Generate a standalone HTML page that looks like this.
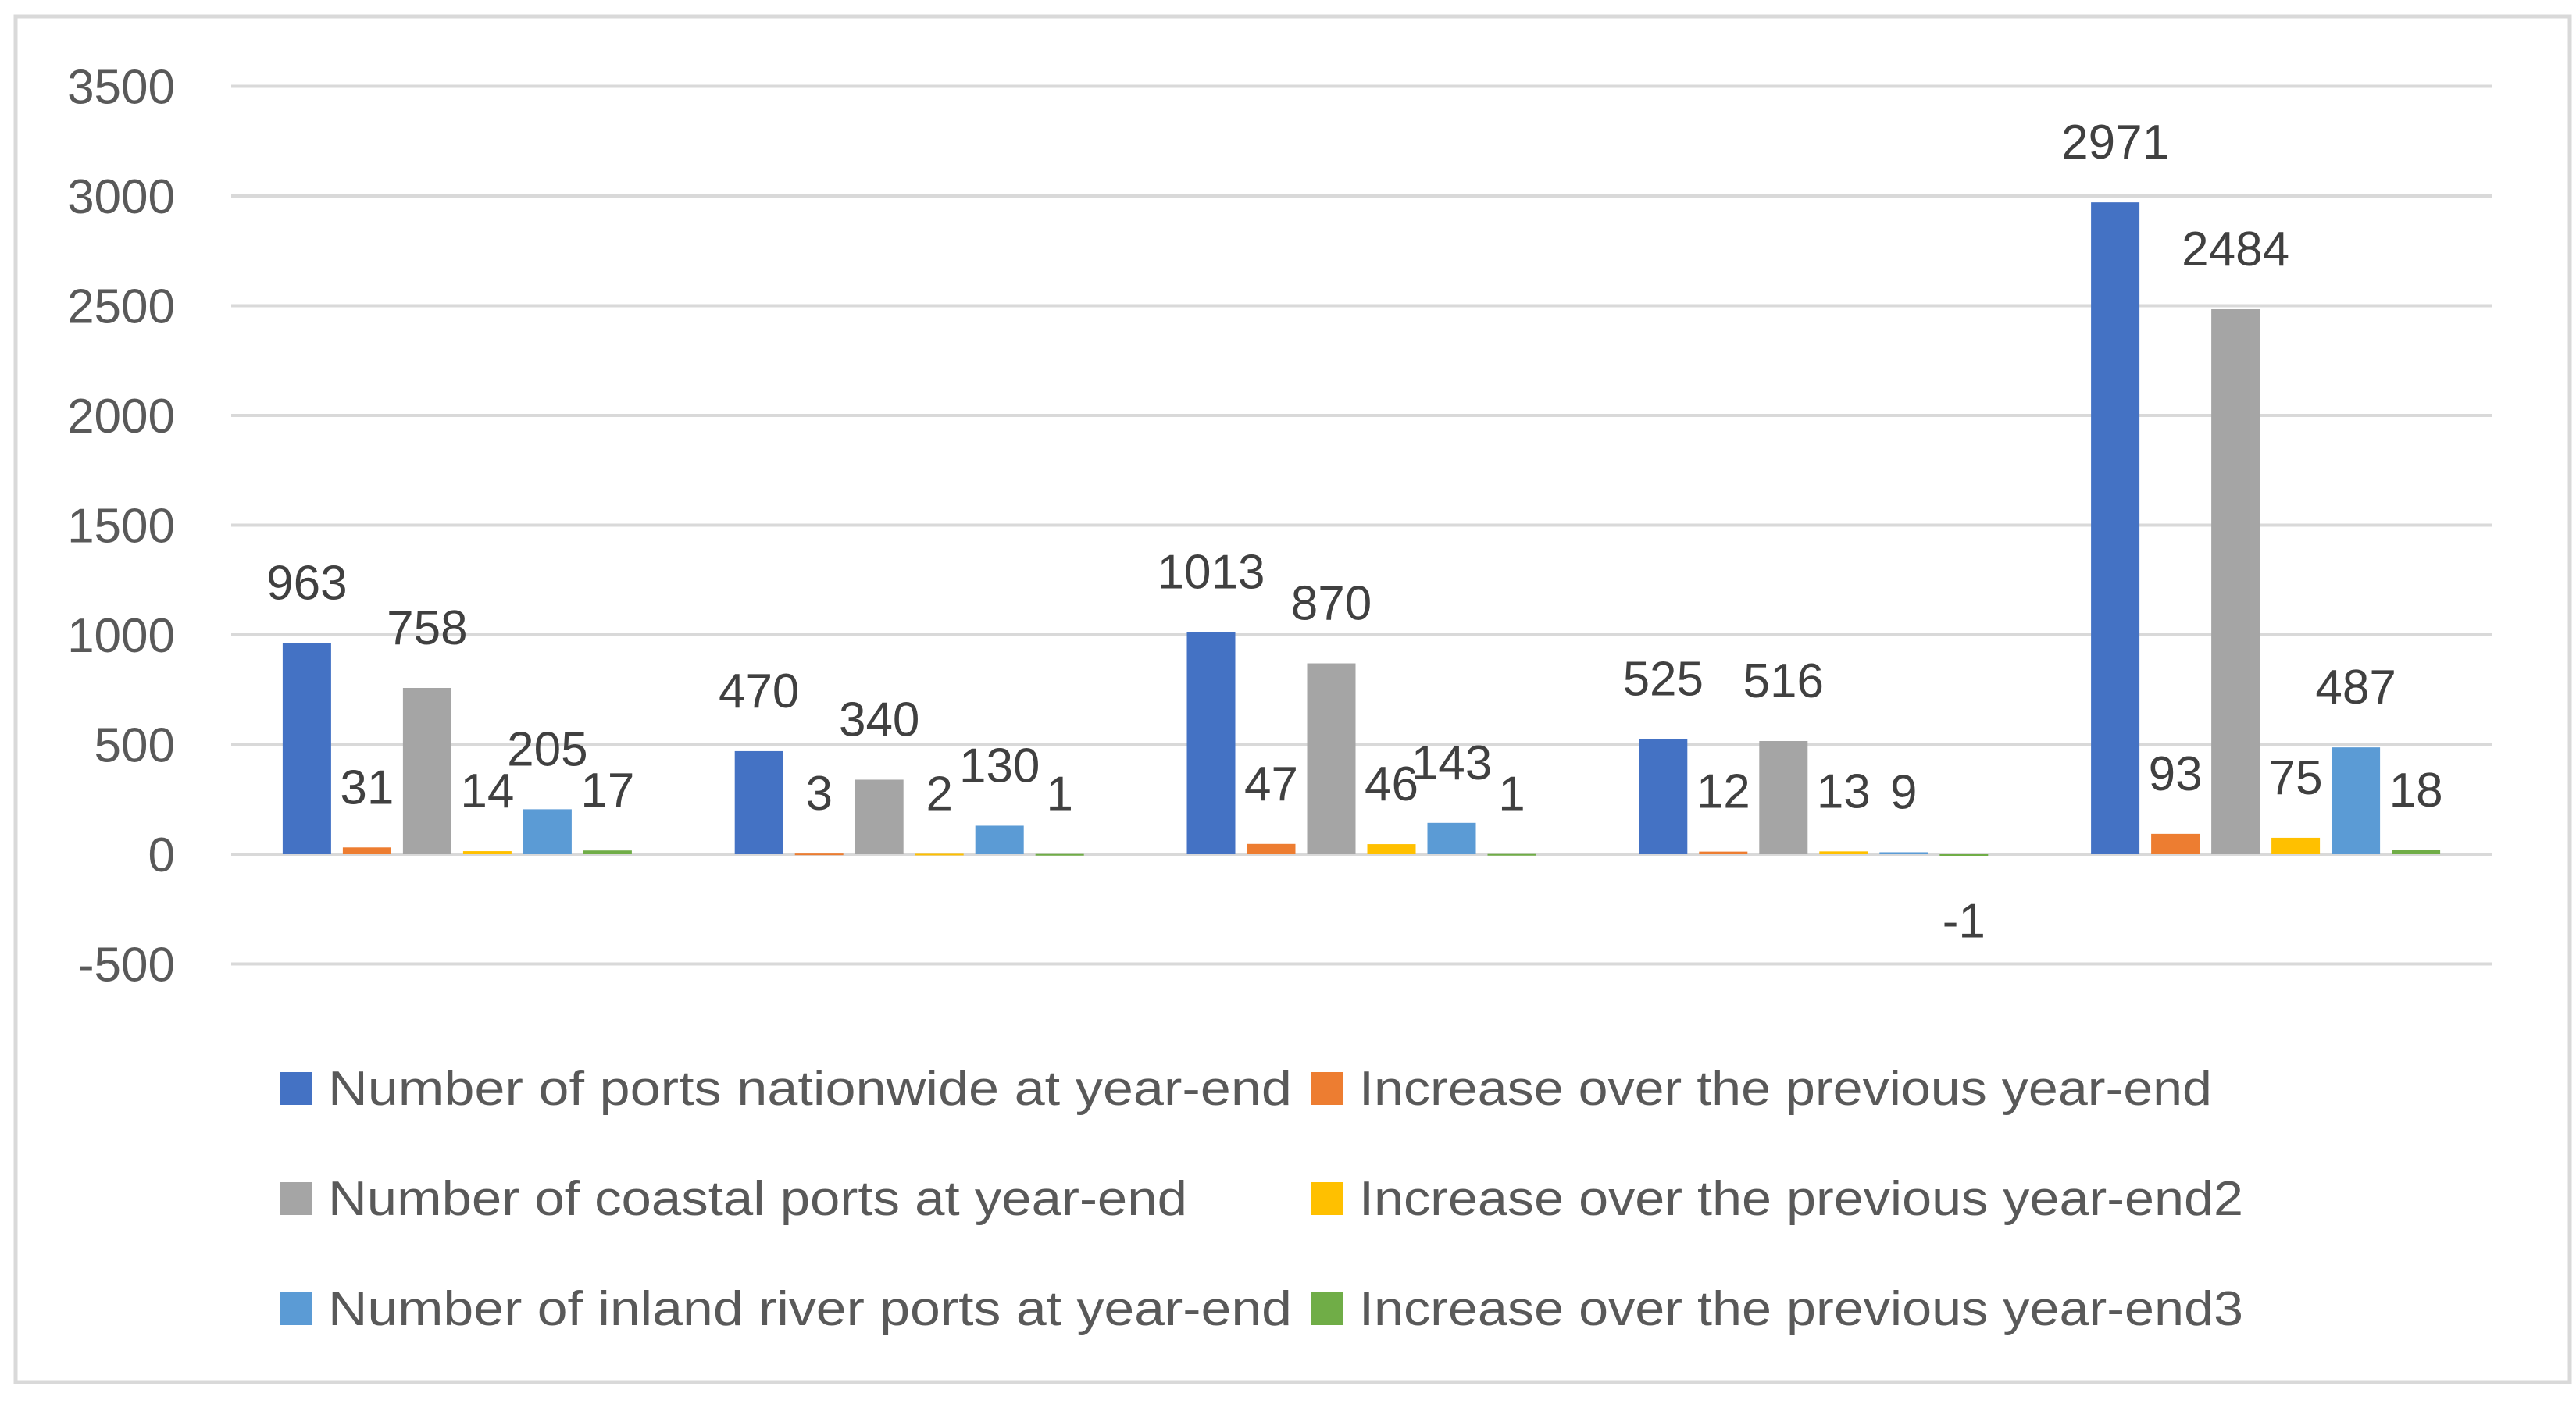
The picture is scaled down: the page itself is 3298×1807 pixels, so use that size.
<!DOCTYPE html>
<html><head><meta charset="utf-8"><style>
html,body{margin:0;padding:0;background:#fff;}
svg{display:block;font-family:"Liberation Sans",sans-serif;}
</style></head><body>
<svg id="chart" width="3298" height="1807" viewBox="0 0 3298 1807" xmlns="http://www.w3.org/2000/svg">
<rect x="20" y="21" width="3270" height="1749" fill="#fff" stroke="#d9d9d9" stroke-width="5"/>
<g id="grid"></g><g id="bars"></g><g id="labels"></g><g id="legend"></g>
</svg>
<script>
const categories = ["G1","G2","G3","G4","G5"];
const seriesNames = ["Number of ports nationwide at year-end","Increase over the previous year-end","Number of coastal ports at year-end","Increase over the previous year-end2","Number of inland river ports at year-end","Increase over the previous year-end3"];
const nationwide = [963,470,1013,525,2971];
const increase1 = [31,3,47,12,93];
const coastal = [758,340,870,516,2484];
const increase2 = [14,2,46,13,75];
const inland = [205,130,143,9,487];
const increase3 = [17,1,1,-1,18];
const yTicks = [-500,0,500,1000,1500,2000,2500,3000,3500];
const colors = ["#4472C4","#ED7D31","#A5A5A5","#FFC000","#5B9BD5","#70AD47"];
const series = [nationwide,increase1,coastal,increase2,inland,increase3];
const NS="http://www.w3.org/2000/svg";
const L=296,R=3190,y0=1094,pxPer=140.5/500;
function y(v){return y0 - v*pxPer;}
const pitch=(R-L)/categories.length, bw=62, step=77, off=(pitch-(step*5+bw))/2;
function xBar(c,s){return L+c*pitch+off+s*step;}
function mk(t,a,p){const e=document.createElementNS(NS,t);for(const k in a)e.setAttribute(k,a[k]);(p||document.getElementById('chart')).appendChild(e);return e;}
const grid=document.getElementById('grid');
yTicks.forEach(t=>{
  const l=mk('line',{x1:L,x2:R,y1:y(t),y2:y(t),stroke:'#d9d9d9','stroke-width':4},grid);
  
  
  const tx=mk('text',{x:224,y:y(t)+22,'text-anchor':'end','font-size':62,fill:'#595959'},grid);
  tx.textContent=t;
  
  
});
const bars=document.getElementById('bars'),labels=document.getElementById('labels');
series.forEach((arr,s)=>{
  arr.forEach((v,c)=>{
    const x=xBar(c,s),top=Math.min(y(v),y0),h=Math.max(Math.abs(y(v)-y0),2);
    const r=mk('rect',{x:x,y:top,width:bw,height:h,fill:colors[s]},bars);
    
    
    const ly = v>=0 ? y(v)-56 : y(v)+106;
    const t=mk('text',{x:x+bw/2,y:ly,'text-anchor':'middle','font-size':62,fill:'#404040'},labels);
    t.textContent=v;
    
    
  });
});
const leg=document.getElementById('legend');
seriesNames.forEach((n,i)=>{
  const col=i%2,row=Math.floor(i/2);
  const sx=col?1678:358, sy=1373+row*141;
  const r=mk('rect',{x:sx,y:sy,width:42,height:42,fill:colors[i]},leg);
  
  
  const t=mk('text',{x:sx+62,y:sy+42,'font-size':62,fill:'#595959',textLength:col?(i==1?1092:1132):(i==2?1100:1234),lengthAdjust:'spacingAndGlyphs'},leg);
  t.textContent=n;
  
  
});
</script>
</body></html>
